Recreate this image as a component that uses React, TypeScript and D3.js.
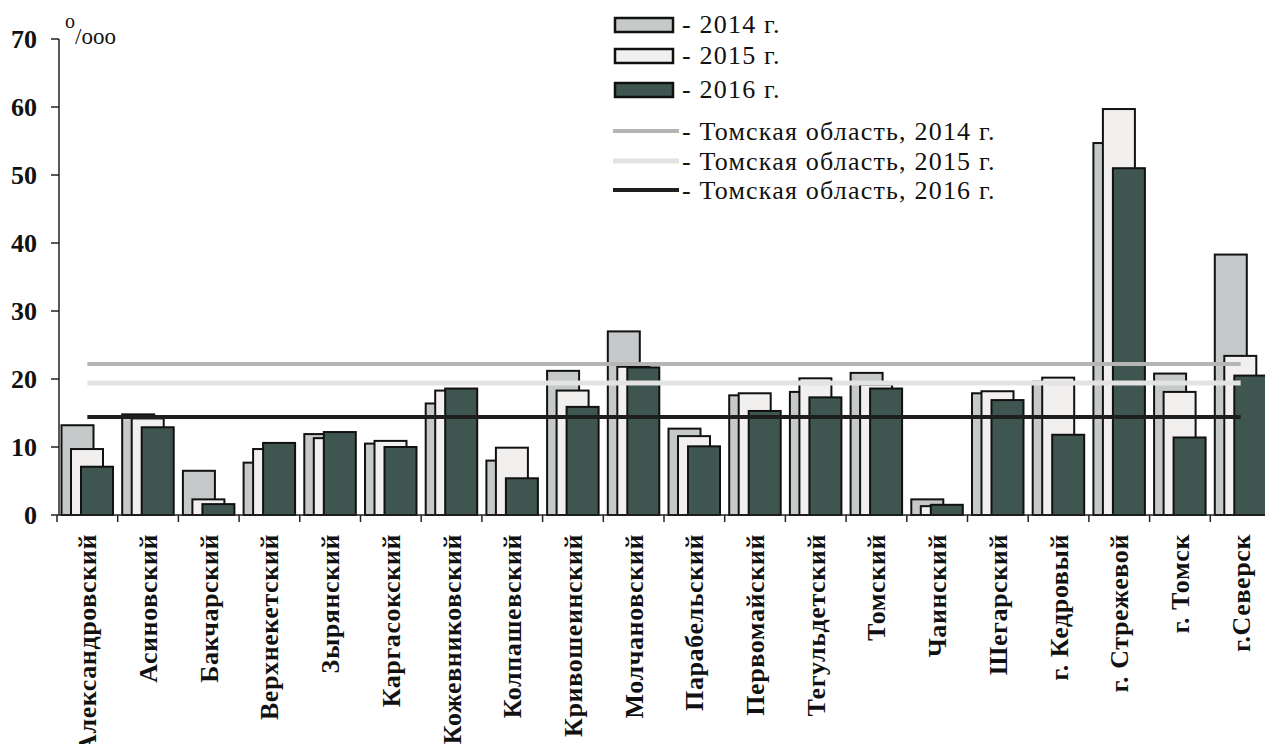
import React from "react";
import * as d3 from "d3";

const categories = [
  "Александровский",
  "Асиновский",
  "Бакчарский",
  "Верхнекетский",
  "Зырянский",
  "Каргасокский",
  "Кожевниковский",
  "Колпашевский",
  "Кривошеинский",
  "Молчановский",
  "Парабельский",
  "Первомайский",
  "Тегульдетский",
  "Томский",
  "Чаинский",
  "Шегарский",
  "г. Кедровый",
  "г. Стрежевой",
  "г. Томск",
  "г.Северск",
];

const values2014 = [13.2, 14.8, 6.5, 7.7, 11.9, 10.5, 16.4, 8.0, 21.2, 27.0, 12.7, 17.6, 18.1, 20.9, 2.3, 17.9, 19.6, 54.7, 20.8, 38.3];
const values2015 = [9.7, 14.2, 2.3, 9.7, 11.3, 10.9, 18.3, 9.9, 18.3, 21.8, 11.6, 17.9, 20.1, 19.2, 1.3, 18.2, 20.2, 59.7, 18.1, 23.4];
const values2016 = [7.1, 12.9, 1.6, 10.6, 12.2, 10.0, 18.6, 5.4, 15.9, 21.7, 10.1, 15.3, 17.3, 18.6, 1.5, 16.9, 11.8, 51.0, 11.4, 20.5];

// Томская область (region average)
const regionYears = ["2014 г.", "2015 г.", "2016 г."];
const regionValues = [22.2, 19.4, 14.4];

const yTicks = [0, 10, 20, 30, 40, 50, 60, 70];

const barColors = ["#c6c9c9", "#f2efef", "#3f5550"];
const lineColors = ["#b5b5b5", "#e3e3e3", "#1e1e1e"];
const lineWidths = [4, 5, 4];

const W = 1265;
const H = 744;

export default function App() {
  const x = d3
    .scaleBand<string>()
    .domain(categories)
    .range([57, 57 + categories.length * 60.7])
    .padding(0);
  const y = d3.scaleLinear().domain([0, 70]).range([515, 39]);
  const bw = x.bandwidth();
  const barW = 32;
  const offsets = [4.5, 14, 24];
  const series = [values2014, values2015, values2016];

  const serif = "'Liberation Serif', 'Times New Roman', serif";
  const first = categories[0];
  const last = categories[categories.length - 1];

  const boxRowsY = [18, 49, 83];
  const lineRowsY = [131, 161, 190];

  return (
    <svg
      width={W}
      height={H}
      style={{ position: "absolute", left: 0, top: 0, background: "#fff" }}
      fontFamily={serif}
    >
      <rect width={W} height={H} fill="#fff" />

      {/* bars */}
      {categories.map((c, i) => (
        <g key={c}>
          {series.map((s, k) => (
            <rect
              key={k}
              x={(x(c) as number) + offsets[k]}
              y={y(s[i])}
              width={barW}
              height={y(0) - y(s[i])}
              fill={barColors[k]}
              stroke="#111"
              strokeWidth={2}
            />
          ))}
        </g>
      ))}

      {/* region lines */}
      {regionValues.map((v, k) => (
        <line
          key={k}
          x1={(x(first) as number) + bw / 2}
          x2={(x(last) as number) + bw / 2}
          y1={y(v)}
          y2={y(v)}
          stroke={lineColors[k]}
          strokeWidth={lineWidths[k]}
        />
      ))}

      {/* y axis */}
      <line x1={59} x2={59} y1={y(70)} y2={y(0)} stroke="#222" strokeWidth={1.5} />
      {yTicks.map((t) => (
        <g key={t}>
          <line x1={51} x2={59} y1={y(t)} y2={y(t)} stroke="#222" strokeWidth={1.5} />
          <text
            x={37}
            y={y(t)}
            dy="0.36em"
            textAnchor="end"
            fontSize={26}
            fontWeight="bold"
            fill="#111"
          >
            {t}
          </text>
        </g>
      ))}
      <text x={65} y={44} fontSize={23} fill="#111">
        <tspan dy={-16} fontSize={20}>o</tspan>
        <tspan dy={16}>/ooo</tspan>
      </text>

      {/* x axis */}
      <line x1={59} x2={W} y1={y(0)} y2={y(0)} stroke="#222" strokeWidth={1.5} />
      {categories.map((c) => (
        <line
          key={c}
          x1={x(c) as number}
          x2={x(c) as number}
          y1={y(0)}
          y2={y(0) + 7}
          stroke="#222"
          strokeWidth={1.5}
        />
      ))}
      {categories.map((c) => (
        <text
          key={c}
          transform={`translate(${(x(c) as number) + bw / 2 + 9},${y(0) + 19}) rotate(-90)`}
          textAnchor="end"
          fontSize={26}
          fontWeight="bold"
          letterSpacing={0.6}
          fill="#111"
        >
          {c}
        </text>
      ))}

      {/* legend */}
      {regionYears.map((yr, k) => (
        <g key={"b" + k} transform={`translate(615,${boxRowsY[k]})`}>
          <rect width={58} height={14} fill={barColors[k]} stroke="#111" strokeWidth={2.5} />
          <text x={67} y={15} fontSize={26} letterSpacing={1.2} fill="#111">
            - {yr}
          </text>
        </g>
      ))}
      {regionYears.map((yr, k) => (
        <g key={"l" + k} transform={`translate(613,${lineRowsY[k]})`}>
          <line x1={0} x2={66} y1={0} y2={0} stroke={lineColors[k]} strokeWidth={lineWidths[k]} />
          <text x={69} y={9} fontSize={26} letterSpacing={1.2} fill="#111">
            - Томская область, {yr}
          </text>
        </g>
      ))}
    </svg>
  );
}
